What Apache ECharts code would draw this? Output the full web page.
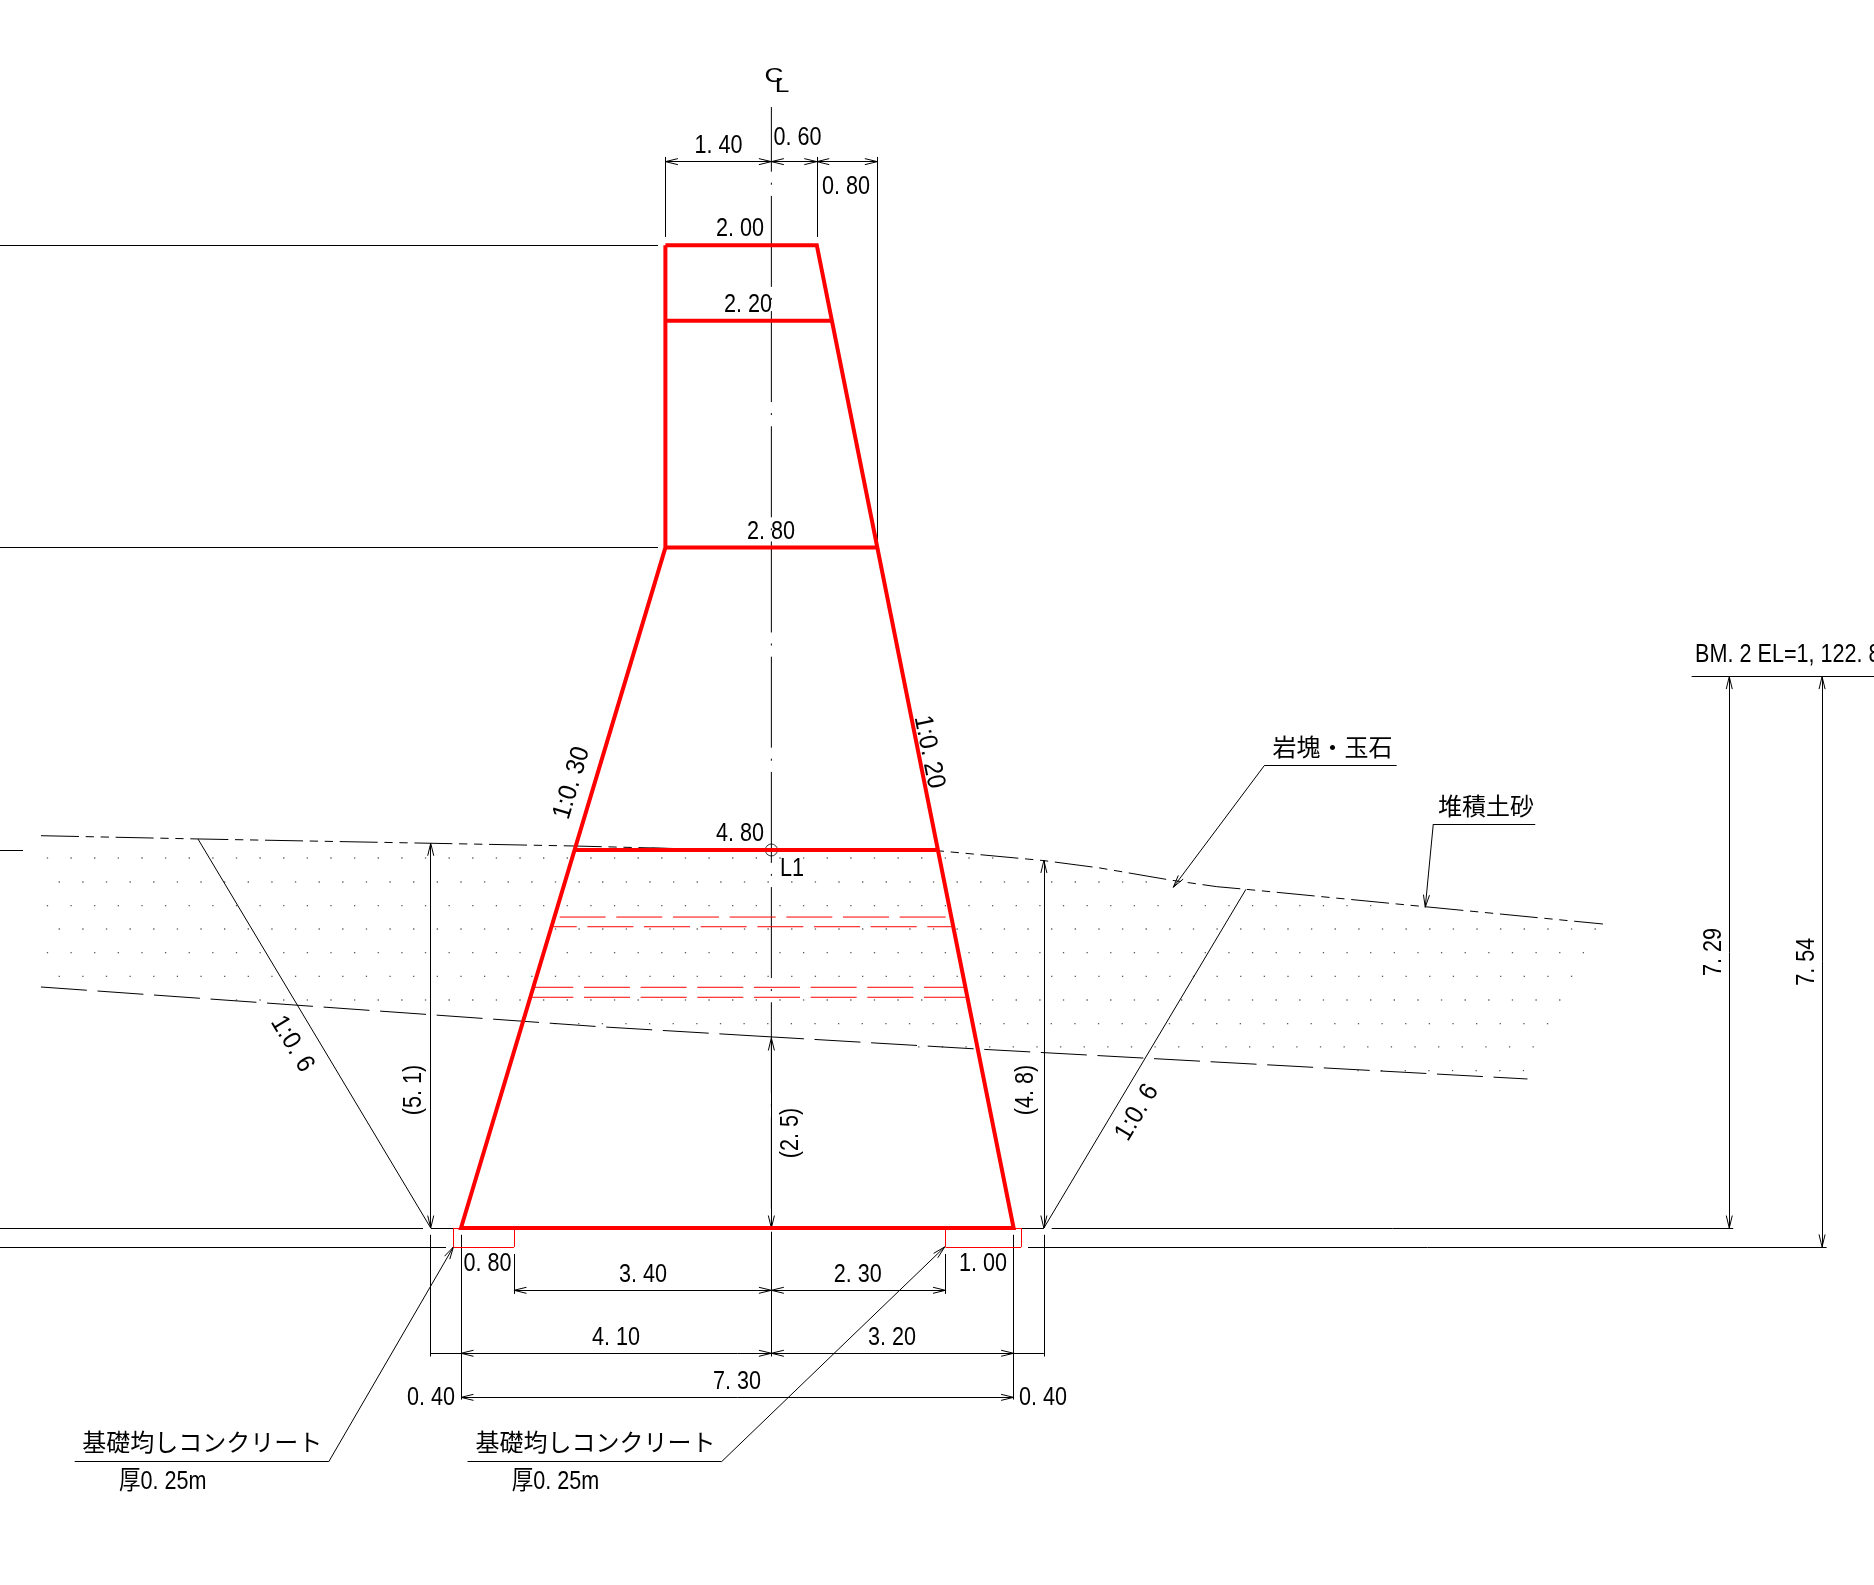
<!DOCTYPE html>
<html lang="ja"><head><meta charset="utf-8"><title>Dam section</title>
<style>html,body{margin:0;padding:0;background:#fff}#c{width:1874px;height:1585px}</style>
<script src="https://cdn.jsdelivr.net/npm/echarts@6/dist/echarts.min.js"></script></head>
<body><div id="c"></div>
<script>
// All geometry in metres: x from the centre line, y above the dam base.
const damX = [-1.4, 0.6, 0.8, 1.4, 3.2, -4.1, -1.4, -1.4];
const damY = [13, 13, 12, 9, 0, 0, 9, 13];
const liftLevels = [12, 9, 5];
const liftLeft = [-1.4, -1.4, -2.6];
const liftRight = [0.8, 1.4, 2.2];

const joints = [ // y, x from, x to, dash offset
  [4.113, -2.797, 2.346, 0],
  [3.985, -2.881, 2.382, 22.6],
  [3.184, -3.123, 2.548, 7.7],
  [3.052, -3.166, 2.567, 4.4]
];
const groundLeft = [[-9.649,5.189],[-7.575,5.146],[-4.497,5.089],[-2.608,5.053],[-1.062,5.014]];
const groundRight = [[2.188,4.991],[3.588,4.861],[4.341,4.762],[5.266,4.603],[5.883,4.515],[6.269,4.48],[8.634,4.25],[10.985,4.021]];
const rockLineA = [[-9.649,3.188],[-2.277,2.663],[-0.177,2.538]];
const rockLineB = [[-0.177,2.538],[2.712,2.368],[9.988,1.971]];
const centreLine = [[0,14.828],[0,0]];

// hatching rows: y, first x, number of dots
const hatchRows = [
  [4.894,-9.563,41],[4.577,-9.407,47],[4.264,-9.563,57],[3.955,-9.407,66],[3.642,-9.563,66],
  [3.329,-9.407,65],[3.016,-7.066,57],[2.703,-2.857,43],[2.396,1.948,27],[2.083,7.750,8]
];
const hatchPitch = 0.31215;

const thinLines = [
  [-10.19,13,-1.498,13],[-10.19,9,-1.498,9],[-10.19,5,-9.886,5],
  [-1.4,14.105,1.4,14.105],[-1.4,14.167,-1.4,13.108],[0.6,14.167,0.6,13.108],[1.4,14.167,1.4,9],
  [-4.5,5.089,-4.5,0],[-7.575,5.146,-4.5,0],[3.6,4.861,3.6,0],[6.269,4.48,3.6,0],[0,2.513,0,0],
  [-1.584,5.024,-1.062,5.014],
  [-10.19,0,-4.602,0],[-4.5,0,-4.1,0],[3.2,0,3.6,0],[3.703,0,12.707,0],
  [-10.19,-0.25,-4.298,-0.25],[3.39,-0.25,13.94,-0.25],
  [-4.5,-0.09,-4.5,-1.7],[-4.1,-0.09,-4.1,-2.27],[0,-0.05,0,-1.7],[3.2,-0.09,3.2,-2.27],[3.6,-0.09,3.6,-1.7],
  [-3.4,-0.343,-3.4,-0.872],[2.3,-0.343,2.3,-0.872],
  [-3.4,-0.824,2.3,-0.824],[-4.5,-1.657,3.6,-1.657],[-4.1,-2.24,3.2,-2.24],
  [12.654,7.293,12.654,0],[13.88,7.293,13.88,-0.25],[12.157,7.293,14.6,7.293],
  [6.511,6.115,8.26,6.115],[8.744,5.344,10.091,5.344],
  [-9.203,-3.091,-5.847,-3.091],[-4.013,-3.091,-0.658,-3.091]
];
const leaders = [ // from, arrow tip
  [6.511,6.115,5.309,4.507],[8.744,5.344,8.638,4.242],
  [-5.847,-3.091,-4.2,-0.25],[-0.658,-3.091,2.29,-0.25]
];
const arrowTips = [ // x, y, direction x, direction y
  [-1.4,14.105,-1,0],[0,14.105,1,0],[0,14.105,-1,0],[0.6,14.105,1,0],[0.6,14.105,-1,0],[1.4,14.105,1,0],
  [-4.5,5.089,0,1],[-4.5,0,0,-1],[3.6,4.861,0,1],[3.6,0,0,-1],[0,2.513,0,1],[0,0,0,-1],
  [-3.4,-0.824,-1,0],[0,-0.824,1,0],[0,-0.824,-1,0],[2.3,-0.824,1,0],
  [-4.1,-1.657,-1,0],[0,-1.657,1,0],[0,-1.657,-1,0],[3.2,-1.657,1,0],
  [-4.1,-2.24,-1,0],[3.2,-2.24,1,0],
  [12.654,7.293,0,1],[12.654,0,0,-1],[13.88,7.293,0,1],[13.88,-0.25,0,-1]
];
const padLines = [
  [-4.2,0,-4.1,0],[-4.2,0,-4.2,-0.25],[-4.2,-0.25,-3.4,-0.25],[-3.4,-0.25,-3.4,0],
  [3.2,0,3.3,0],[2.3,0,2.3,-0.25],[2.3,-0.25,3.3,-0.25],[3.3,-0.25,3.3,0]
];
const pointL1 = [[0,5]];

const dimTexts = ["1. 40","0. 60","0. 80","2. 00","2. 20","2. 80","4. 80","L1","1:0. 30","1:0. 20","1:0. 6","1:0. 6","(5. 1)","(4. 8)","(2. 5)","7. 29","7. 54","BM. 2 EL=1, 122. 8","0. 80","3. 40","4. 10","0. 40","2. 30","1. 00","3. 20","7. 30","0. 40","厚0. 25m","厚0. 25m"];
const dimTextX = [-0.699,0.345,0.985,-0.415,-0.309,-0.005,-0.415,0.272,-2.660,2.106,-6.310,4.810,-4.748,3.337,0.232,12.426,13.658,12.203,-3.750,-1.696,-2.053,-4.497,1.141,2.795,1.593,-0.454,3.588,-8.041,-2.851];
const dimTextY = [14.339,14.444,13.796,13.244,12.235,9.239,5.238,4.779,5.893,6.3,2.447,1.541,1.825,1.825,1.257,3.651,3.523,7.612,-0.45,-0.589,-1.429,-2.222,-0.589,-0.45,-1.429,-2.011,-2.222,-3.333,-3.333];
const dimTextAngle = [0,0,0,0,0,0,0,0,73.3,-78.7,-59,59,90,90,90,90,90,0,0,0,0,0,0,0,0,0,0,0,0];
const noteTexts = ["岩塊・玉石","堆積土砂","基礎均しコンクリート","基礎均しコンクリート"];
const noteX = [7.412,9.440,-7.517,-2.324];
const noteY = [6.367,5.588,-2.831,-2.831];
const markTexts = ["C","L"];
const markX = [0.034,0.140];
const markY = [15.238,15.106];

const INK = '#000', RED = '#ff0000';
const segs = a => a.map(s => ({coords:[[s[0],s[1]],[s[2],s[3]]]}));
const arrowLen = 0.165, arrowHalf = 0.04;
function barbs(x,y,dx,dy){
  const n = Math.hypot(dx,dy), ux = dx/n, uy = dy/n;
  const bx = x-ux*arrowLen, by = y-uy*arrowLen;
  return [[x,y,bx-uy*arrowHalf,by+ux*arrowHalf],[x,y,bx+uy*arrowHalf,by-ux*arrowHalf]];
}
const allBarbs = arrowTips.concat(leaders.map(l=>[l[2],l[3],l[2]-l[0],l[3]-l[1]])).flatMap(a=>barbs(a[0],a[1],a[2],a[3]));
const hatchData = hatchRows.flatMap(r => Array.from({length:r[2]},(_,k)=>[r[1]+k*hatchPitch,r[0]]));
const damPts = damX.map((x,i)=>[x,damY[i]]);

function polyline(data,width,color,type,offset,z){
  return {type:'line',data,showSymbol:false,symbol:'none',silent:true,animation:false,clip:false,z:z||2,
    lineStyle:{width,color,type:type||'solid',dashOffset:offset||0,cap:'butt',join:'miter'}};
}
function segSeries(list,width,color,z){
  return {type:'lines',coordinateSystem:'cartesian2d',data:segs(list),silent:true,animation:false,z:z||2,
    lineStyle:{width,color,opacity:1,curveness:0}};
}
function textSeries(texts,xs,ys,font,size,squeeze,angles,drop){
  return {type:'custom',coordinateSystem:'cartesian2d',silent:true,animation:false,clip:false,z:6,
    data:texts.map((t,i)=>[xs[i],ys[i],i]),encode:{x:0,y:1},
    renderItem(params,api){
      const i=api.value(2), p=api.coord([api.value(0),api.value(1)]), t=texts[i];
      return {type:'text',x:p[0],y:p[1],rotation:(angles?angles[i]:0)*Math.PI/180,
        scaleX:t.indexOf(':')>=0?squeeze*1.12:squeeze,
        style:{text:t,y:drop||0,fontFamily:font,fontSize:size,fill:INK,
          align:t.indexOf('BM')===0?'left':'center',verticalAlign:'middle'}};
    }};
}
const longShort=[38,6.7,8.3,6.7,8.3,6.7], longDash=[46,10.67], centreDash=[91,11,2,11.2];
const series=[
  {type:'scatter',data:hatchData,symbol:'rect',symbolSize:1.3,itemStyle:{color:'#333'},silent:true,animation:false,z:1},
  polyline(groundLeft,1,INK,longShort,0),
  polyline(groundRight,1,INK,longShort,31),
  polyline(rockLineA,1,INK,longDash,0),
  polyline(rockLineB,1,INK,longDash,0),
  polyline(centreLine,1,INK,centreDash,26.3),
  segSeries(thinLines,1,INK),
  segSeries(leaders,1,INK),
  segSeries(allBarbs,1,INK),
  {type:'scatter',data:pointL1,symbol:'circle',symbolSize:12,itemStyle:{color:'transparent',borderColor:INK,borderWidth:1},silent:true,animation:false,z:3},
  segSeries(padLines,1,RED,4),
  ...joints.map(j=>polyline([[j[1],j[0]],[j[2],j[0]]],1,RED,longDash,j[3],4)),
  polyline(damPts,4,RED,'solid',0,5),
  ...liftLevels.map((y,i)=>polyline([[liftLeft[i],y],[liftRight[i],y]],4,RED,'solid',0,5)),
  textSeries(dimTexts,dimTextX,dimTextY,"'Liberation Sans','Noto Sans CJK JP',sans-serif",26,0.83,dimTextAngle,2),
  textSeries(noteTexts,noteX,noteY,"'Noto Sans CJK JP',sans-serif",24,1),
  textSeries(markTexts,markX,markY,"'Liberation Sans',sans-serif",21,1.25)
];
const chart=echarts.init(document.getElementById('c'),null,{renderer:'canvas',width:1874,height:1585});
chart.setOption({
  backgroundColor:'#fff',animation:false,tooltip:{show:false},legend:{show:false},
  grid:{left:0,right:0,top:0,bottom:0,containLabel:false},
  xAxis:{type:'value',min:-10.19,max:14.566,show:false,scale:true},
  yAxis:{type:'value',min:-4.722,max:16.243,show:false,scale:true},
  series
});
</script></body></html>
